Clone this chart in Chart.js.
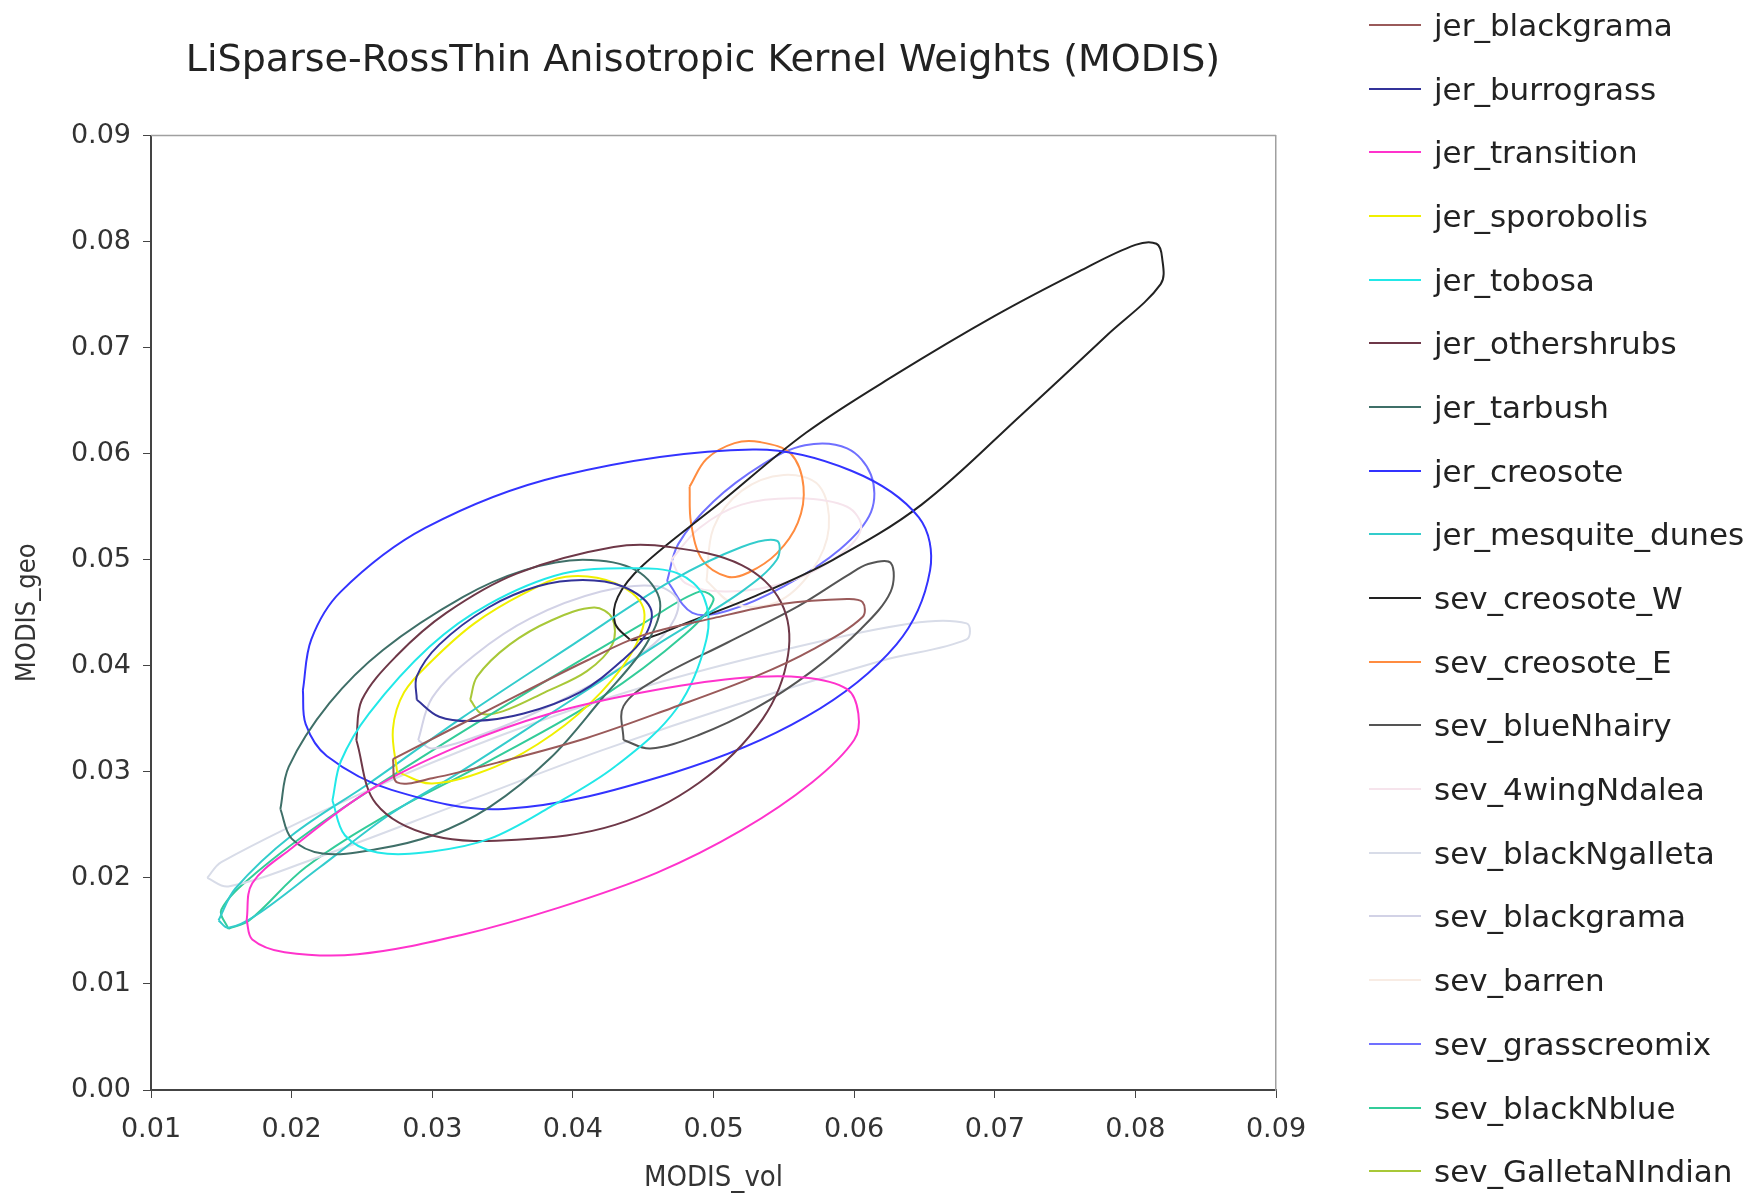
<!DOCTYPE html>
<html>
<head>
<meta charset="utf-8">
<script src="https://cdn.jsdelivr.net/npm/chart.js@4.4.1/dist/chart.umd.min.js"></script>
<style>
  body { margin: 0; background: #fff; }
  #wrap { position: relative; width: 1756px; height: 1196px; }
  #chart { position: absolute; left: 0; top: 0; }
  #legend { position: absolute; left: 1369px; top: -7px; font-family: "DejaVu Sans", Verdana, sans-serif; font-size: 31px; color: #222; }
  .item { height: 63.7px; display: flex; align-items: center; white-space: nowrap; }
  .swatch { width: 52px; height: 2px; margin-right: 13px; }
</style>
</head>
<body>
<div id="wrap">
  <canvas id="chart" width="1756" height="1196"></canvas>
  <div id="legend"></div>
</div>
<script>
// contour outlines, [MODIS_vol, MODIS_geo]
const seriesNames = [
  "jer_blackgrama", "jer_burrograss", "jer_transition", "jer_sporobolis", "jer_tobosa",
  "jer_othershrubs", "jer_tarbush", "jer_creosote", "jer_mesquite_dunes", "sev_creosote_W",
  "sev_creosote_E", "sev_blueNhairy", "sev_4wingNdalea", "sev_blackNgalleta", "sev_blackgrama",
  "sev_barren", "sev_grasscreomix", "sev_blackNblue", "sev_GalletaNIndian"
];

const seriesColors = [
  "#9a5a5a", "#333399", "#ff33cc", "#f0f000", "#22e8e8",
  "#6e3848", "#3f6f68", "#3333ff", "#33cccc", "#222222",
  "#ff8c40", "#555555", "#f6e4ec", "#d8dce8", "#d2d2e6",
  "#f8ece4", "#7070ff", "#33cc99", "#a8c838"
];

const jerBlackgrama = [[0.0272,0.0312],[0.0350,0.0365],[0.0410,0.0405],[0.0448,0.0428],[0.0500,0.0445],[0.0547,0.0458],[0.0595,0.0463],[0.0606,0.0460],[0.0606,0.0446],[0.0570,0.0415],[0.0530,0.0390],[0.0470,0.0360],[0.0410,0.0332],[0.0350,0.0310],[0.0300,0.0294],[0.0275,0.0290]];
const jerBurrograss = [[0.0289,0.0368],[0.0289,0.0390],[0.0305,0.0420],[0.0340,0.0455],[0.0375,0.0475],[0.0407,0.0481],[0.0435,0.0475],[0.0455,0.0455],[0.0452,0.0430],[0.0435,0.0405],[0.0405,0.0375],[0.0365,0.0355],[0.0330,0.0348],[0.0305,0.0352]];
const jerTransition = [[0.0168,0.0160],[0.0172,0.0195],[0.0200,0.0228],[0.0256,0.0283],[0.0320,0.0325],[0.0384,0.0355],[0.0450,0.0375],[0.0515,0.0388],[0.0564,0.0389],[0.0595,0.0378],[0.0603,0.0355],[0.0600,0.0330],[0.0570,0.0290],[0.0520,0.0245],[0.0460,0.0205],[0.0390,0.0172],[0.0320,0.0146],[0.0247,0.0128],[0.0195,0.0130],[0.0172,0.0142]];
const jerSporobolis = [[0.0275,0.0300],[0.0272,0.0340],[0.0280,0.0375],[0.0300,0.0405],[0.0330,0.0440],[0.0365,0.0468],[0.0395,0.0484],[0.0430,0.0478],[0.0450,0.0455],[0.0445,0.0420],[0.0420,0.0375],[0.0385,0.0335],[0.0345,0.0305],[0.0300,0.0289]];
const jerTobosa = [[0.0229,0.0273],[0.0235,0.0310],[0.0255,0.0355],[0.0298,0.0418],[0.0340,0.0458],[0.0393,0.0487],[0.0441,0.0492],[0.0475,0.0487],[0.0493,0.0465],[0.0495,0.0425],[0.0474,0.0360],[0.0430,0.0305],[0.0384,0.0267],[0.0341,0.0237],[0.0300,0.0225],[0.0261,0.0224],[0.0238,0.0240]];
const jerOthershrubs = [[0.0246,0.0330],[0.0250,0.0368],[0.0275,0.0410],[0.0310,0.0450],[0.0360,0.0487],[0.0429,0.0512],[0.0469,0.0512],[0.0520,0.0495],[0.0548,0.0460],[0.0553,0.0410],[0.0535,0.0350],[0.0490,0.0290],[0.0430,0.0250],[0.0360,0.0236],[0.0300,0.0240],[0.0260,0.0270]];
const jerTarbush = [[0.0192,0.0265],[0.0198,0.0305],[0.0227,0.0365],[0.0265,0.0415],[0.0322,0.0465],[0.0365,0.0490],[0.0407,0.0500],[0.0445,0.0490],[0.0462,0.0460],[0.0452,0.0420],[0.0420,0.0368],[0.0384,0.0313],[0.0341,0.0267],[0.0300,0.0240],[0.0260,0.0227],[0.0222,0.0223],[0.0200,0.0237]];
const jerCreosote = [[0.0208,0.0377],[0.0214,0.0425],[0.0235,0.0470],[0.0295,0.0530],[0.0391,0.0579],[0.0528,0.0604],[0.0598,0.0584],[0.0646,0.0540],[0.0654,0.0490],[0.0630,0.0420],[0.0566,0.0352],[0.0471,0.0299],[0.0351,0.0265],[0.0271,0.0283],[0.0225,0.0315],[0.0210,0.0345]];
const jerMesquiteDunes = [[0.0148,0.0160],[0.0160,0.0190],[0.0200,0.0240],[0.0256,0.0290],[0.0320,0.0350],[0.0400,0.0420],[0.0470,0.0480],[0.0520,0.0512],[0.0545,0.0518],[0.0545,0.0500],[0.0520,0.0470],[0.0460,0.0420],[0.0390,0.0360],[0.0320,0.0300],[0.0270,0.0260],[0.0220,0.0210],[0.0175,0.0165],[0.0155,0.0153]];
const sevCreosoteW = [[0.0441,0.0424],[0.0430,0.0440],[0.0432,0.0465],[0.0450,0.0495],[0.0504,0.0553],[0.0566,0.0620],[0.0630,0.0675],[0.0700,0.0730],[0.0760,0.0772],[0.0800,0.0797],[0.0815,0.0798],[0.0819,0.0785],[0.0818,0.0760],[0.0780,0.0712],[0.0720,0.0638],[0.0648,0.0552],[0.0585,0.0500],[0.0530,0.0466],[0.0480,0.0440],[0.0455,0.0427]];
const sevCreosoteE = [[0.0483,0.0569],[0.0495,0.0595],[0.0515,0.0610],[0.0533,0.0611],[0.0555,0.0600],[0.0564,0.0569],[0.0560,0.0535],[0.0545,0.0506],[0.0525,0.0488],[0.0510,0.0484],[0.0492,0.0500],[0.0484,0.0535]];
const sevBlueNhairy = [[0.0436,0.0330],[0.0436,0.0362],[0.0460,0.0388],[0.0510,0.0422],[0.0560,0.0456],[0.0595,0.0485],[0.0610,0.0496],[0.0626,0.0497],[0.0626,0.0470],[0.0605,0.0435],[0.0570,0.0395],[0.0530,0.0360],[0.0490,0.0335],[0.0455,0.0322]];
const sev4wingNdalea = [[0.0470,0.0500],[0.0490,0.0530],[0.0520,0.0552],[0.0560,0.0558],[0.0595,0.0550],[0.0605,0.0530],[0.0590,0.0505],[0.0555,0.0480],[0.0510,0.0470],[0.0480,0.0478]];
const sevBlackNgalleta = [[0.0140,0.0200],[0.0150,0.0215],[0.0250,0.0280],[0.0350,0.0335],[0.0450,0.0380],[0.0550,0.0415],[0.0640,0.0440],[0.0680,0.0440],[0.0680,0.0425],[0.0620,0.0405],[0.0520,0.0365],[0.0420,0.0320],[0.0320,0.0270],[0.0220,0.0220],[0.0155,0.0192]];
const sevBlackgrama = [[0.0290,0.0330],[0.0300,0.0370],[0.0330,0.0410],[0.0370,0.0445],[0.0420,0.0470],[0.0460,0.0475],[0.0475,0.0460],[0.0465,0.0430],[0.0430,0.0395],[0.0380,0.0360],[0.0335,0.0335],[0.0300,0.0322]];
const sevBarren = [[0.0495,0.0480],[0.0500,0.0530],[0.0520,0.0565],[0.0550,0.0580],[0.0575,0.0570],[0.0582,0.0530],[0.0570,0.0490],[0.0545,0.0460],[0.0515,0.0458]];
const sevGrasscreomix = [[0.0467,0.0480],[0.0475,0.0515],[0.0500,0.0555],[0.0535,0.0590],[0.0565,0.0608],[0.0595,0.0605],[0.0612,0.0580],[0.0612,0.0545],[0.0590,0.0510],[0.0550,0.0475],[0.0510,0.0452],[0.0485,0.0450]];
const sevBlackNblue = [[0.0155,0.0152],[0.0150,0.0170],[0.0175,0.0205],[0.0230,0.0260],[0.0300,0.0320],[0.0380,0.0385],[0.0450,0.0440],[0.0490,0.0470],[0.0500,0.0462],[0.0480,0.0430],[0.0420,0.0370],[0.0340,0.0310],[0.0270,0.0261],[0.0210,0.0210],[0.0170,0.0160]];
const sevGalletaNIndian = [[0.0327,0.0368],[0.0332,0.0390],[0.0355,0.0420],[0.0385,0.0443],[0.0415,0.0455],[0.0428,0.0445],[0.0428,0.0420],[0.0410,0.0395],[0.0380,0.0375],[0.0350,0.0357],[0.0335,0.0355]];

const seriesPoints = [
  jerBlackgrama, jerBurrograss, jerTransition, jerSporobolis, jerTobosa,
  jerOthershrubs, jerTarbush, jerCreosote, jerMesquiteDunes, sevCreosoteW,
  sevCreosoteE, sevBlueNhairy, sev4wingNdalea, sevBlackNgalleta, sevBlackgrama,
  sevBarren, sevGrasscreomix, sevBlackNblue, sevGalletaNIndian
];

const xTicks = [0.01, 0.02, 0.03, 0.04, 0.05, 0.06, 0.07, 0.08, 0.09];
const yTicks = [0.00, 0.01, 0.02, 0.03, 0.04, 0.05, 0.06, 0.07, 0.08, 0.09];

function closedLoop(pts) {
  const out = pts.map(p => ({ x: p[0], y: p[1] }));
  out.push({ x: pts[0][0], y: pts[0][1] });
  return out;
}

const datasets = seriesNames.map((name, i) => ({
  label: name,
  data: closedLoop(seriesPoints[i]),
  borderColor: seriesColors[i],
  backgroundColor: seriesColors[i],
  borderWidth: 2,
  showLine: true,
  pointRadius: 0,
  tension: 0.35,
  fill: false
}));

// grey line along the top of the plot area
const frame = {
  id: "frame",
  afterDraw(chart) {
    const a = chart.chartArea;
    const ctx = chart.ctx;
    ctx.save();
    ctx.strokeStyle = "#a0a0a0";
    ctx.lineWidth = 1.5;
    ctx.beginPath();
    ctx.moveTo(a.left, a.top);
    ctx.lineTo(a.right, a.top);
    ctx.stroke();
    ctx.restore();
  }
};

const tickFont = { family: "DejaVu Sans", size: 27 };

new Chart(document.getElementById("chart"), {
  type: "scatter",
  data: { datasets: datasets },
  plugins: [frame],
  options: {
    responsive: false,
    animation: false,
    layout: { padding: { left: 0, right: 350, top: 0, bottom: 0 } },
    plugins: {
      legend: { display: false },
      tooltip: { enabled: false },
      title: {
        display: true,
        text: "LiSparse-RossThin Anisotropic Kernel Weights (MODIS)",
        color: "#222",
        font: { family: "DejaVu Sans", size: 38, weight: "normal" },
        padding: { top: 38, bottom: 52 }
      }
    },
    scales: {
      x: {
        type: "linear",
        min: 0.01,
        max: 0.09,
        afterBuildTicks: axis => { axis.ticks = xTicks.map(v => ({ value: v })); },
        afterFit: scale => { scale.height = 106; },
        ticks: { color: "#333", font: tickFont, padding: 16, callback: v => v.toFixed(2) },
        grid: { drawOnChartArea: false, drawTicks: true, tickLength: 8, color: "#444" },
        border: { color: "#444", width: 2 },
        title: {
          display: true,
          text: "MODIS_vol",
          color: "#333",
          font: { family: "DejaVu Sans Condensed", size: 29 },
          padding: { top: 0, bottom: 0 }
        }
      },
      y: {
        type: "linear",
        min: 0,
        max: 0.09,
        afterBuildTicks: axis => { axis.ticks = yTicks.map(v => ({ value: v })); },
        afterFit: scale => { scale.width = 151; },
        ticks: { color: "#333", font: tickFont, padding: 12, callback: v => v.toFixed(2) },
        grid: { drawOnChartArea: false, drawTicks: true, tickLength: 8, color: "#444" },
        border: { color: "#444", width: 2 },
        title: {
          display: true,
          text: "MODIS_geo",
          color: "#333",
          font: { family: "DejaVu Sans Condensed", size: 27 },
          padding: { top: 12, bottom: 0 }
        }
      },
      // empty right-hand axis: draws the grey right edge of the frame and keeps the title centred
      yRight: {
        type: "linear",
        position: "right",
        min: 0,
        max: 0.09,
        afterFit: scale => { scale.width = 130; },
        ticks: { display: false },
        grid: { display: false, drawTicks: false },
        border: { display: true, color: "#a0a0a0", width: 1.5 }
      }
    }
  }
});

const legend = document.getElementById("legend");
seriesNames.forEach((name, i) => {
  const row = document.createElement("div");
  row.className = "item";
  const sw = document.createElement("span");
  sw.className = "swatch";
  sw.style.background = seriesColors[i];
  const label = document.createElement("span");
  label.textContent = name;
  row.appendChild(sw);
  row.appendChild(label);
  legend.appendChild(row);
});
</script>
</body>
</html>
